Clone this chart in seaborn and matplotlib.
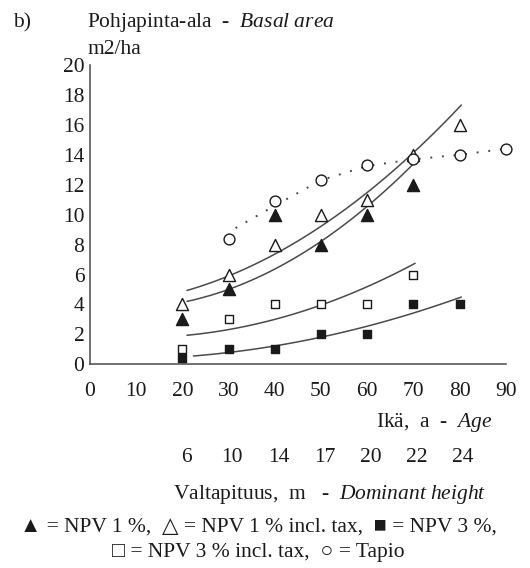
import numpy as np
import pandas as pd
import matplotlib
matplotlib.use("Agg")
import matplotlib.pyplot as plt
import matplotlib.transforms as mtransforms
import seaborn as sns

# ---- data -------------------------------------------------------------
ages = [0, 10, 20, 30, 40, 50, 60, 70, 80, 90]
basal_ticks = [0, 2, 4, 6, 8, 10, 12, 14, 16, 18, 20]

# dominant height (m) at the stand ages 20..80
height_ages = [20, 30, 40, 50, 60, 70, 80]
dominant_height = [6, 10, 14, 17, 20, 22, 24]

# observed basal area (m2/ha) at thinning
npv1_age = [20, 30, 40, 50, 60, 70]
npv1_ba = [3, 5, 10, 8, 10, 12]

npv1_tax_age = [20, 30, 40, 50, 60, 70, 80]
npv1_tax_ba = [4, 6, 8, 10, 11, 14, 16]

npv3_age = [20, 30, 40, 50, 60, 70, 80]
npv3_ba = [0.4, 1, 1, 2, 2, 4, 4]

npv3_tax_age = [20, 30, 40, 50, 60, 70]
npv3_tax_ba = [1, 3, 4, 4, 4, 6]

tapio_age = [30, 40, 50, 60, 70, 80, 90]
tapio_ba = [8.4, 10.9, 12.3, 13.3, 13.7, 14.0, 14.4]

# trend curves (age, basal area) – smoothed with a 2nd degree fit
npv1_tax_curve_age = [21, 30, 40, 50, 60, 70, 80.4]
npv1_tax_curve_ba = [4.96, 5.86, 7.37, 9.24, 11.43, 14.2, 17.3]

npv1_curve_age = [21, 30, 40, 50, 60, 70]
npv1_curve_ba = [4.19, 4.97, 6.48, 8.2, 10.43, 13.45]

npv3_tax_curve_age = [21, 35, 50, 60, 70.4]
npv3_tax_curve_ba = [1.94, 2.63, 3.95, 5.19, 6.75]

npv3_curve_age = [22.4, 30, 40, 50, 60, 70, 80.4]
npv3_curve_ba = [0.55, 0.85, 1.07, 1.95, 2.55, 3.36, 4.52]

# Tapio guideline curve
tapio_curve_age = [31.5, 40, 50, 60, 70, 80, 90]
tapio_curve_ba = [9.1, 10.6, 12.3, 13.25, 13.7, 14.0, 14.4]

# ---- style ------------------------------------------------------------
sns.set_theme(style="white")
plt.rcParams["font.family"] = ["Liberation Serif", "DejaVu Sans"]
plt.rcParams["mathtext.fontset"] = "custom"
plt.rcParams["mathtext.rm"] = "Liberation Serif"
plt.rcParams["mathtext.it"] = "Liberation Serif:italic"

INK = "#1a1a1a"
LINE = "#4a4a4a"
FS = 15.5

fig = plt.figure(figsize=(5.3, 5.68), dpi=100)
ax = fig.add_axes([90 / 530, 1 - 364.3 / 568, 415.7 / 530, 299.3 / 568])


def trend(age, ba, n=100):
    coef = np.polyfit(age, ba, 2)
    xs = np.linspace(min(age), max(age), n)
    return pd.DataFrame({"age": xs, "ba": np.polyval(coef, xs)})


for a, b in [(npv1_tax_curve_age, npv1_tax_curve_ba),
             (npv1_curve_age, npv1_curve_ba),
             (npv3_tax_curve_age, npv3_tax_curve_ba),
             (npv3_curve_age, npv3_curve_ba)]:
    sns.lineplot(data=trend(a, b), x="age", y="ba", ax=ax,
                 color=LINE, lw=1.1, sort=False, errorbar=None)

tapio_line = pd.DataFrame({"age": tapio_curve_age, "ba": tapio_curve_ba})
sns.lineplot(data=tapio_line, x="age", y="ba", ax=ax, color=LINE, lw=1.4,
             linestyle=(0, (1, 5)), sort=False, errorbar=None)

series = [
    (npv1_tax_age, npv1_tax_ba, "^", "white", 8.7),
    (npv1_age, npv1_ba, "^", INK, 8.7),
    (npv3_tax_age, npv3_tax_ba, "s", "white", 6.2),
    (npv3_age, npv3_ba, "s", INK, 6.2),
    (tapio_age, tapio_ba, "o", "white", 7.8),
]
for a, b, m, fc, ms in series:
    df = pd.DataFrame({"age": a, "ba": b})
    sns.scatterplot(data=df, x="age", y="ba", ax=ax, marker=m, s=ms ** 2,
                    facecolor=fc, edgecolor=INK, linewidth=1.0,
                    clip_on=False, zorder=5)

# ---- axes -------------------------------------------------------------
ax.set_xlim(0, 90)
ax.set_ylim(0, 20)
ax.set_xticks(ages)
ax.set_yticks(basal_ticks)
ax.set_xticklabels([str(v) for v in ages], fontsize=FS, color=INK)
ax.set_yticklabels([str(v) for v in basal_ticks], fontsize=FS, color=INK)
ax.set_xlabel("")
ax.set_ylabel("")
for side in ("top", "right"):
    ax.spines[side].set_visible(False)
for side in ("left", "bottom"):
    ax.spines[side].set_color(LINE)
    ax.spines[side].set_linewidth(1.1)
ax.tick_params(axis="y", direction="inout", length=8, width=1.1,
               color=LINE, pad=0)
ax.tick_params(axis="x", direction="in", length=5, width=1.1,
               color=LINE, pad=13)
ax.patch.set_visible(False)

# ---- texts ------------------------------------------------------------
fig.text(13 / 530, 1 - 27 / 568, "b)", fontsize=FS, color=INK, va="baseline")
fig.text(87 / 530, 1 - 27 / 568,
         r"Pohjapinta-ala  -  $\mathit{Basal\ area}$",
         fontsize=FS, color=INK, va="baseline")
fig.text(87 / 530, 1 - 54 / 568, "m2/ha", fontsize=FS, color=INK,
         va="baseline")

fig.text(493 / 530, 1 - 423 / 568, r"Ikä,  a  -  $\mathit{Age}$",
         fontsize=FS, color=INK, ha="right", va="center")

row = mtransforms.blended_transform_factory(ax.transData, fig.transFigure)
for a, h in zip(height_ages, dominant_height):
    ax.text(a + 0.8, 1 - 457 / 568, str(h), transform=row, fontsize=FS,
            color=INK, ha="center", va="center")

fig.text(330 / 530, 1 - 495 / 568,
         r"Valtapituus,  m   -  $\mathit{Dominant\ height}$",
         fontsize=FS, color=INK, ha="center", va="center")

fig.text(258 / 530, 1 - 527 / 568,
         "▲ = NPV 1 %,  △ = NPV 1 % incl. tax,  ■ = NPV 3 %,",
         fontsize=FS, color=INK, ha="center", va="center")
fig.text(258 / 530, 1 - 553 / 568,
         "□ = NPV 3 % incl. tax,  ○ = Tapio",
         fontsize=FS, color=INK, ha="center", va="center")

fig.savefig("out.png", dpi=100)
